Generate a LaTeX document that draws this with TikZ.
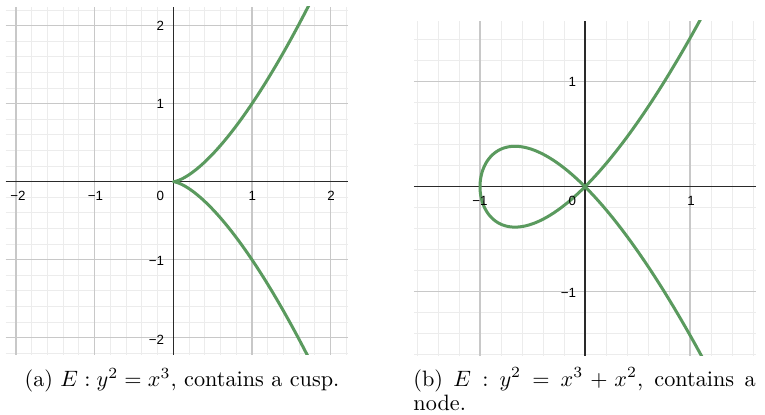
\documentclass[tikz,border=0pt]{standalone}
\usepackage{fontspec}
\newfontfamily\ticksfont{Liberation Sans}
\definecolor{curvegreen}{HTML}{5A9A5E}
\definecolor{majorgrid}{HTML}{C8C8C8}
\definecolor{minorgrid}{HTML}{ECECEC}
\definecolor{axiscol}{HTML}{2A2A2A}
\tikzset{
  minorg/.style={draw=minorgrid, line width=0.45pt},
  majorg/.style={draw=majorgrid, line width=0.5pt},
  axisline/.style={draw=axiscol, line width=0.65pt},
  curveline/.style={draw=curvegreen, line width=1.35pt, line join=round, line cap=round},
  ticklab/.style={font=\ticksfont\fontsize{6}{7}\selectfont, inner sep=0pt, text=black},
  caplab/.style={font=\fontsize{10}{10.8}\selectfont, inner sep=0pt}
}
\begin{document}
\begin{tikzpicture}[x=0.45pt, y=-0.45pt]
\useasboundingbox (0,0) rectangle (765,415);
% ---------- left plot ----------
\begin{scope}[shift={(173.3,181.7)}, x=35.4pt, y=35.1pt]
  \coordinate (L1) at (-2.13,-2.22);
  \coordinate (L2) at (2.22,2.24);
  \draw[minorg] (L1) grid[step=0.2] (L2);
  \draw[majorg] (L1) grid[step=1] (L2);
  \coordinate (LxA) at (-2.13,0); \coordinate (LxB) at (2.22,0);
  \coordinate (LyA) at (0,-2.22); \coordinate (LyB) at (0,2.24);
  \draw[axisline] (LxA) -- (LxB);
  \draw[axisline] (LyA) -- (LyB);
  \begin{scope}
    \clip (L1) rectangle (L2);
    \draw[curveline] plot[domain=-1.33:1.33, samples=120, smooth] ({\x*\x},{\x*\x*\x});
  \end{scope}
\end{scope}
% left tick labels
\node[ticklab] (lxm2) at (18,196) {−2};
\node[ticklab] (lxm1) at (95.5,196) {−1};
\node[ticklab, anchor=east] (lx0) at (164.5,196) {0};
\node[ticklab] (lx1) at (252.3,196) {1};
\node[ticklab] (lx2) at (331,196) {2};
\node[ticklab, anchor=east] (ly2) at (164.5,26) {2};
\node[ticklab, anchor=east] (ly1) at (164.5,104.3) {1};
\node[ticklab, anchor=east] (lym1) at (164.5,261) {−1};
\node[ticklab, anchor=east] (lym2) at (164.5,340) {−2};
% ---------- right plot ----------
\begin{scope}[shift={(585,186.7)}, x=47.25pt, y=47.25pt]
  \coordinate (R1) at (-1.63,-1.61);
  \coordinate (R2) at (1.63,1.58);
  \draw[minorg] (R1) grid[step=0.2] (R2);
  \draw[majorg] (R1) grid[step=1] (R2);
  \coordinate (RxA) at (-1.63,0); \coordinate (RxB) at (1.63,0);
  \coordinate (RyA) at (0,-1.61); \coordinate (RyB) at (0,1.58);
  \draw[axisline] (RxA) -- (RxB);
  \draw[axisline] (RyA) -- (RyB);
  \begin{scope}
    \clip (R1) rectangle (R2);
    \draw[curveline] plot[domain=-1.47:1.47, samples=160, smooth] ({\x*\x-1},{\x*\x*\x-\x});
  \end{scope}
\end{scope}
% right tick labels
\node[ticklab] (rxm1) at (480,200.7) {−1};
\node[ticklab, anchor=east] (rx0) at (576.5,200.7) {0};
\node[ticklab] (rx1) at (691,200.7) {1};
\node[ticklab, anchor=east] (ry1) at (576.5,82.3) {1};
\node[ticklab, anchor=east] (rym1) at (576.5,293) {−1};
% ---------- captions ----------
\node[caplab, anchor=base] (capa) at (182,386.7) {(a) $E : y^2 = x^3$, contains a cusp.};
\node[caplab, anchor=north west, text width=154pt, align=justify] (capb) at (413,367.5)
  {(b) $E : y^2 = x^3 + x^2$, contains a node.};
\end{tikzpicture}
\end{document}
